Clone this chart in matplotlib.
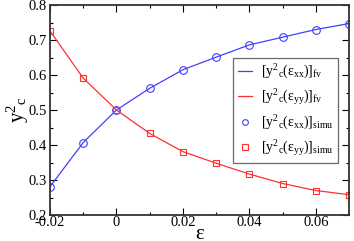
import matplotlib
matplotlib.use("Agg")
import matplotlib.pyplot as plt
from matplotlib.ticker import MultipleLocator

plt.rcParams["font.family"] = ["Liberation Serif", "DejaVu Serif"]
plt.rcParams["mathtext.fontset"] = "custom"
plt.rcParams["mathtext.rm"] = "Liberation Serif"
plt.rcParams["mathtext.it"] = "Liberation Serif"

# strain values and squared critical positions
eps = [-0.02, -0.01, 0.0, 0.01, 0.02, 0.03, 0.04, 0.05, 0.06, 0.07]
yc2_xx = [0.281, 0.407, 0.500, 0.562, 0.615, 0.651, 0.686, 0.708, 0.730, 0.747]
yc2_yy = [0.726, 0.591, 0.500, 0.433, 0.381, 0.348, 0.317, 0.290, 0.270, 0.258]

blue = "#4040ff"
red = "#ff3030"

fig = plt.figure(figsize=(3.54, 2.41), dpi=100)
ax = fig.add_axes([50 / 354, 1 - 215 / 241, 299 / 354, 210 / 241])

ax.plot(eps, yc2_xx, color=blue, lw=0.9,
        label=r"[y$^{2}$$_{\mathrm{c}}$(ε$_{\mathrm{xx}}$)]$_{\mathrm{fv}}$")
ax.plot(eps, yc2_yy, color=red, lw=0.9,
        label=r"[y$^{2}$$_{\mathrm{c}}$(ε$_{\mathrm{yy}}$)]$_{\mathrm{fv}}$")
ax.plot(eps, yc2_xx, ls="none", marker="o", ms=5.5, mfc="none", mec=blue, mew=0.8,
        label=r"[y$^{2}$$_{\mathrm{c}}$(ε$_{\mathrm{xx}}$)]$_{\mathrm{simu}}$")
ax.plot(eps, yc2_yy, ls="none", marker="s", ms=5, mfc="none", mec=red, mew=0.8,
        label=r"[y$^{2}$$_{\mathrm{c}}$(ε$_{\mathrm{yy}}$)]$_{\mathrm{simu}}$")

ax.set_xlim(-0.02, 0.07)
ax.set_ylim(0.2, 0.8)
ax.xaxis.set_minor_locator(MultipleLocator(0.01))
ax.yaxis.set_minor_locator(MultipleLocator(0.05))
ax.set_xticks([-0.02, 0, 0.02, 0.04, 0.06])
ax.set_xticklabels(["-0.02", "0", "0.02", "0.04", "0.06"])
ax.set_yticks([0.2, 0.3, 0.4, 0.5, 0.6, 0.7, 0.8])
ax.set_yticklabels(["0.2", "0.3", "0.4", "0.5", "0.6", "0.7", "0.8"])
ax.tick_params(which="both", direction="in", top=True, right=True, labelsize=10.5)
ax.tick_params(axis="x", pad=0.5)
ax.tick_params(axis="y", pad=2)
ax.tick_params(which="major", length=5, width=0.8)
ax.tick_params(which="minor", length=2.5, width=0.8)
for s in ax.spines.values():
    s.set_linewidth(1.3)
    s.set_color("#333333")

ax.set_xlabel("ε", fontsize=15, labelpad=-3)
ax.set_ylabel(r"y$^{2}$$_{\mathrm{c}}$", fontsize=15)
ax.yaxis.set_label_coords(-0.065, 0.5)

leg = ax.legend(loc="upper right", bbox_to_anchor=(0.963, 0.748), fontsize=10,
                frameon=True, fancybox=False, handlelength=1.0, handletextpad=0.6,
                borderpad=0.35, labelspacing=0.45, numpoints=1, markerscale=0.75,
                borderaxespad=0)
leg.get_frame().set_edgecolor("#444444")
leg.get_frame().set_linewidth(0.9)

fig.savefig("out.png", dpi=100)
